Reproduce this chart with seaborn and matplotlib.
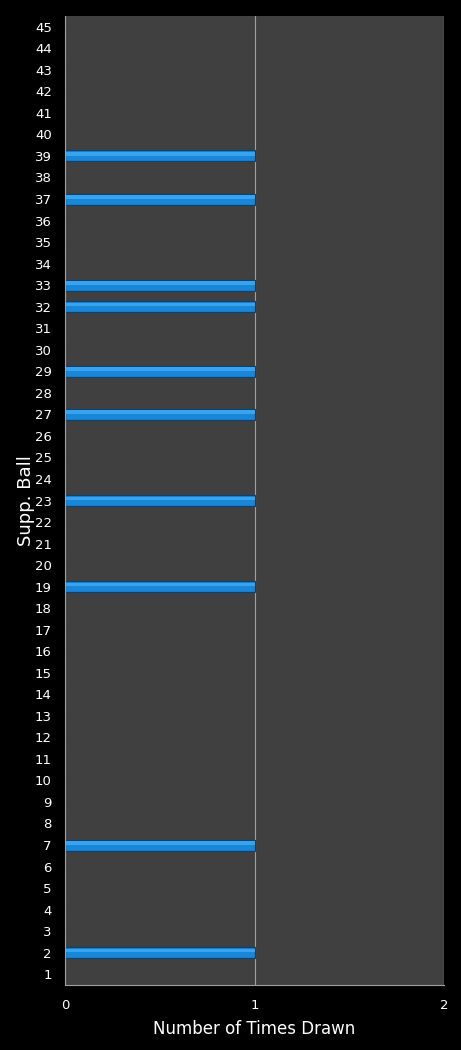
import numpy as np
import pandas as pd
import matplotlib.pyplot as plt
import seaborn as sns

# supp. ball numbers 1..45 and how often each was drawn
balls = list(range(1, 46))
drawn_balls = [2, 7, 19, 23, 27, 29, 32, 33, 37, 39]
times_drawn = [1 if b in drawn_balls else 0 for b in balls]
x_ticks = [0, 1, 2]

df = pd.DataFrame({'ball': [str(b) for b in balls], 'times': times_drawn})
order = [str(b) for b in reversed(balls)]

sns.set_style('dark')
plt.rcParams['font.family'] = ['DejaVu Sans']

fig = plt.figure(figsize=(4.61, 10.5), dpi=100, facecolor='black')
ax = fig.add_axes([65 / 461, 1 - 985 / 1050, (444 - 65) / 461, (985 - 16) / 1050])
ax.set_facecolor('#404040')

# main bar + lighter highlight strip on top
sns.barplot(data=df, x='times', y='ball', order=order, orient='h',
            color='#1a86d8', edgecolor='#0b4270', linewidth=0.9,
            width=0.51, saturation=1, ax=ax)
sns.barplot(data=df, x='times', y='ball', order=order, orient='h',
            color='#38a4f0', linewidth=0, width=0.16, saturation=1, ax=ax)
# shift highlight strips toward the top edge of each bar
for p in ax.patches[len(balls):]:
    p.set_y(p.get_y() - 0.1)

ax.set_xlim(0, 2)
ax.set_xticks(x_ticks)
ax.xaxis.grid(True, color='#a0a0a0', linewidth=0.8)
ax.yaxis.grid(False)
ax.set_axisbelow(True)
for s in ['top', 'right']:
    ax.spines[s].set_visible(False)
ax.spines['left'].set_color('#a0a0a0')
ax.spines['bottom'].set_color('#a0a0a0')
ax.spines['left'].set_linewidth(0.8)
ax.spines['bottom'].set_linewidth(0.8)
ax.axvline(2, color='#a0a0a0', linewidth=0.8)

ax.tick_params(axis='both', colors='white', labelsize=9.5, length=0)
ax.tick_params(axis='x', pad=10)
ax.tick_params(axis='y', pad=9.5)
ax.set_xlabel('Number of Times Drawn', color='white', fontsize=12, labelpad=6)
ax.set_ylabel('Supp. Ball', color='white', fontsize=13, labelpad=0)

fig.savefig('out.png', dpi=100, facecolor='black')
